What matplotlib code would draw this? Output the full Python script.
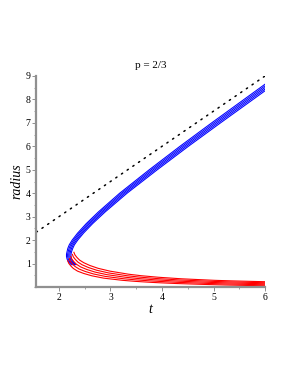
import matplotlib
matplotlib.use("Agg")
import matplotlib.pyplot as plt
from matplotlib.ticker import MultipleLocator

# upper (blue) branches: radius values shared, one t list per curve
blue_r = [0.95, 1.0, 1.1, 1.2, 1.3, 1.4, 1.5, 1.65, 1.8, 2.0, 2.3, 2.7, 3.2, 4.0,
          5.0, 6.0, 7.0, 8.0, 9.0]
blue_t0 = [2.241, 2.216, 2.176, 2.156, 2.146, 2.146, 2.156, 2.172, 2.20, 2.256, 2.362,
           2.528, 2.764, 3.178, 3.752, 4.348, 4.964, 5.592, 6.22]
blue_t1 = [2.263, 2.238, 2.198, 2.178, 2.168, 2.168, 2.178, 2.196, 2.225, 2.283, 2.391,
           2.559, 2.797, 3.214, 3.791, 4.389, 5.007, 5.636, 6.265]
blue_t2 = [2.285, 2.26, 2.22, 2.20, 2.19, 2.19, 2.20, 2.22, 2.25, 2.31, 2.42,
           2.59, 2.83, 3.25, 3.83, 4.43, 5.05, 5.68, 6.31]
blue_t3 = [2.307, 2.282, 2.242, 2.222, 2.212, 2.212, 2.222, 2.244, 2.275, 2.337, 2.449,
           2.621, 2.863, 3.286, 3.869, 4.471, 5.093, 5.724, 6.355]
blue_t4 = [2.329, 2.304, 2.264, 2.244, 2.234, 2.234, 2.244, 2.268, 2.30, 2.364, 2.478,
           2.652, 2.896, 3.322, 3.908, 4.512, 5.136, 5.768, 6.40]

# lower (red) branches, from the tip near the nose out to large t
red_t0 = [2.17, 2.19, 2.23, 2.28, 2.36, 2.48, 2.64, 2.87, 3.23, 3.48, 3.81, 4.26, 4.90,
          5.24, 5.90, 6.82]
red_r0 = [1.12, 1.01, 0.899, 0.789, 0.678, 0.578, 0.477, 0.377, 0.286, 0.241, 0.196,
          0.15, 0.105, 0.085, 0.056, 0.027]
red_t1 = [2.20, 2.22, 2.26, 2.31, 2.39, 2.51, 2.67, 2.90, 3.26, 3.51, 3.84, 4.29, 4.93,
          5.27, 5.93, 6.85]
red_r1 = [1.21, 1.10, 0.989, 0.879, 0.768, 0.663, 0.557, 0.452, 0.351, 0.301, 0.251,
          0.20, 0.15, 0.129, 0.098, 0.067]
red_t2 = [2.23, 2.25, 2.29, 2.34, 2.42, 2.54, 2.70, 2.93, 3.29, 3.54, 3.87, 4.32, 4.96,
          5.30, 5.96, 6.88]
red_r2 = [1.300, 1.190, 1.079, 0.969, 0.858, 0.748, 0.637, 0.527, 0.416, 0.361, 0.306,
          0.250, 0.195, 0.173, 0.140, 0.107]
red_t3 = [2.26, 2.28, 2.32, 2.37, 2.45, 2.57, 2.73, 2.96, 3.32, 3.57, 3.90, 4.35, 4.99,
          5.33, 5.99, 6.91]
red_r3 = [1.39, 1.28, 1.169, 1.059, 0.948, 0.833, 0.717, 0.602, 0.481, 0.421, 0.361,
          0.30, 0.24, 0.217, 0.182, 0.147]
red_t4 = [2.29, 2.31, 2.35, 2.40, 2.48, 2.60, 2.76, 2.99, 3.35, 3.60, 3.93, 4.38, 5.02,
          5.36, 6.02, 6.94]
red_r4 = [1.48, 1.37, 1.259, 1.149, 1.038, 0.918, 0.797, 0.677, 0.546, 0.481, 0.416,
          0.35, 0.285, 0.261, 0.224, 0.187]

# dotted asymptote r = 1.5 t
dot_t = [1.56, 6.0]
dot_r = [2.34, 9.0]

blue_curves = [blue_t0, blue_t1, blue_t2, blue_t3, blue_t4]
red_curves = [(red_t0, red_r0), (red_t1, red_r1), (red_t2, red_r2),
              (red_t3, red_r3), (red_t4, red_r4)]


def main():
    plt.rcParams['font.family'] = ['Liberation Serif', 'DejaVu Serif']

    fig = plt.figure(figsize=(2.89, 3.74), dpi=100)
    ax = fig.add_axes([0.1256, 0.2326, 0.7914, 0.5642])

    ax.plot(dot_t, dot_r, color='black', lw=1.1, linestyle=(0, (0.9, 3.6)),
            dash_capstyle='round')

    for t in blue_curves:
        ax.plot(t, blue_r, color='#0000ff', lw=0.75)
    for t, r in red_curves:
        ax.plot(t, r, color='#ff0000', lw=0.8)

    ax.set_xlim(1.56, 6.0)
    ax.set_ylim(0, 9)
    ax.set_xticks([2, 3, 4, 5, 6])
    ax.set_yticks([1, 2, 3, 4, 5, 6, 7, 8, 9])
    ax.xaxis.set_minor_locator(MultipleLocator(0.5))
    ax.yaxis.set_minor_locator(MultipleLocator(0.5))

    for side in ['top', 'right']:
        ax.spines[side].set_visible(False)
    for side in ['left', 'bottom']:
        ax.spines[side].set_color('#909090')
        ax.spines[side].set_linewidth(1.6)

    ax.tick_params(which='major', length=3, width=0.7, color='#909090',
                   labelsize=7, pad=1)
    ax.tick_params(which='minor', length=1.5, width=0.6, color='#909090')

    ax.set_title('p = 2/3', fontsize=8, pad=6)
    ax.set_xlabel('t', fontsize=10, style='italic', labelpad=1)
    ax.set_ylabel('radius', fontsize=10, style='italic', labelpad=2)

    fig.savefig('out.png', dpi=100)


if __name__ == "__main__":
    main()
